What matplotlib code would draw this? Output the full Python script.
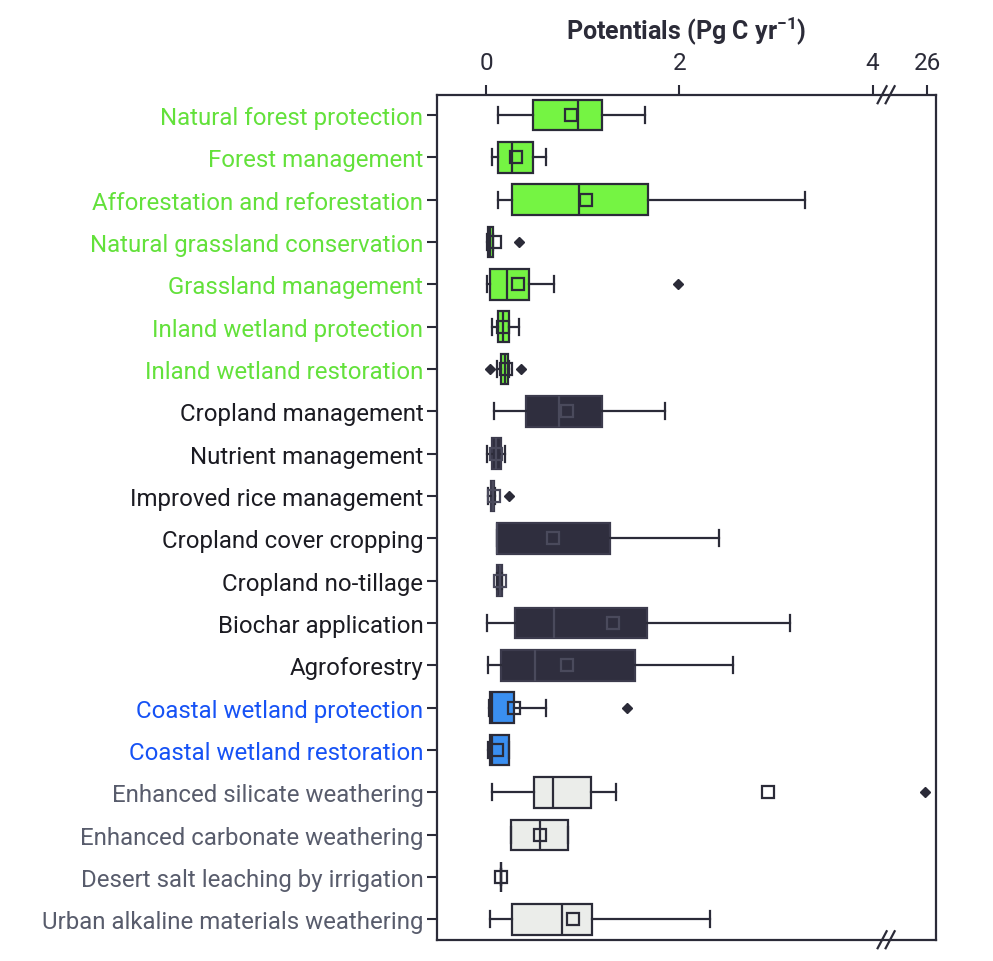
import numpy as np
import matplotlib.pyplot as plt

plt.rcParams['font.family'] = ['Roboto', 'DejaVu Sans']
plt.rcParams['mathtext.fontset'] = 'custom'
plt.rcParams['mathtext.rm'] = 'Roboto'
plt.rcParams['mathtext.bf'] = 'Roboto:bold'

# practices, top to bottom
methods = [
    'Natural forest protection', 'Forest management', 'Afforestation and reforestation',
    'Natural grassland conservation', 'Grassland management', 'Inland wetland protection',
    'Inland wetland restoration', 'Cropland management', 'Nutrient management',
    'Improved rice management', 'Cropland cover cropping', 'Cropland no-tillage',
    'Biochar application', 'Agroforestry', 'Coastal wetland protection',
    'Coastal wetland restoration', 'Enhanced silicate weathering',
    'Enhanced carbonate weathering', 'Desert salt leaching by irrigation',
    'Urban alkaline materials weathering',
]
groups = ['green'] * 7 + ['crop'] * 7 + ['blue'] * 2 + ['rock'] * 4

whislo = [0.12, 0.06, 0.12, 0.01, 0.01, 0.06, 0.11, 0.08, 0.01, 0.02,
          0.11, 0.11, 0.01, 0.02, 0.03, 0.02, 0.06, 0.26, 0.15, 0.04]
q1 = [0.49, 0.12, 0.27, 0.02, 0.04, 0.12, 0.16, 0.41, 0.06, 0.055,
      0.11, 0.11, 0.30, 0.15, 0.04, 0.04, 0.50, 0.26, 0.15, 0.27]
med = [0.95, 0.27, 0.96, 0.04, 0.22, 0.18, 0.20, 0.75, 0.10, 0.07,
       0.11, 0.14, 0.70, 0.51, 0.06, 0.06, 0.69, 0.555, 0.15, 0.79]
q3 = [1.20, 0.49, 1.68, 0.07, 0.44, 0.24, 0.23, 1.20, 0.15, 0.086,
      1.28, 0.17, 1.67, 1.54, 0.29, 0.235, 1.09, 0.845, 0.15, 1.10]
whishi = [1.64, 0.62, 3.30, 0.07, 0.70, 0.34, 0.24, 1.85, 0.20, 0.09,
          2.41, 0.17, 3.15, 2.56, 0.62, 0.235, 1.34, 0.845, 0.15, 2.32]
means = [0.88, 0.31, 1.03, 0.09, 0.33, 0.18, 0.21, 0.84, 0.10, 0.08,
         0.69, 0.14, 1.31, 0.84, 0.29, 0.11, 2.92, 0.555, 0.155, 0.90]
outliers = [[], [], [], [0.34], [1.99], [], [0.04, 0.36], [], [], [0.24],
            [], [], [], [], [1.46], [], [25.2], [], [], []]

tick_vals = [0, 2, 4, 26]

face = {'green': '#75f443', 'crop': '#2f2e3e', 'blue': '#3a8ff1', 'rock': '#ebedea'}
text_col = {'green': '#63e13b', 'crop': '#1b1b22', 'blue': '#1652f5', 'rock': '#585c6c'}
edge = '#2b2b38'
dark_inner = '#4a4a5c'  # median / mean outline inside the dark boxes

# compress everything past 4 so that 26 fits next to it
K = 0.02573


def fwd(x):
    x = np.asarray(x, dtype=float)
    return np.where(x <= 4, x, 4 + (x - 4) * K)


def inv(y):
    y = np.asarray(y, dtype=float)
    return np.where(y <= 4, y, 4 + (y - 4) / K)


stats = []
for i in range(len(methods)):
    stats.append(dict(label=methods[i], whislo=whislo[i], q1=q1[i], med=med[i],
                      q3=q3[i], whishi=whishi[i], mean=means[i], fliers=outliers[i]))

fig = plt.figure(figsize=(9.93, 9.62), dpi=100)
ax = fig.add_axes([0.4404, 0.0221, 0.5022, 0.8784])
ax.set_xscale('function', functions=(fwd, inv))

res = ax.bxp(stats, positions=range(len(methods)), widths=0.72, orientation='horizontal',
             patch_artist=True, showmeans=True, capwidths=0.38,
             boxprops=dict(edgecolor=edge, linewidth=1.6),
             whiskerprops=dict(color=edge, linewidth=1.6),
             capprops=dict(color=edge, linewidth=1.6),
             medianprops=dict(color=edge, linewidth=1.6),
             meanprops=dict(marker='s', markerfacecolor='none', markeredgecolor=edge,
                            markersize=8, markeredgewidth=1.6),
             flierprops=dict(marker='D', markerfacecolor=edge, markeredgecolor=edge,
                             markersize=5))
for i, g in enumerate(groups):
    res['boxes'][i].set_facecolor(face[g])
    if g == 'crop':
        res['boxes'][i].set_edgecolor('#3c3b4d')
        res['medians'][i].set_color(dark_inner)
        res['means'][i].set_markeredgecolor(dark_inner)

ax.set_xlim(-0.504, 29.5)
ax.set_ylim(19.48, -0.48)

ax.xaxis.tick_top()
ax.xaxis.set_label_position('top')
ax.set_xticks(tick_vals)
ax.set_xticklabels([str(v) for v in tick_vals])
ax.minorticks_off()
ax.set_xlabel(r'Potentials (Pg C yr$^{\mathbf{-1}}$)', fontsize=18, fontweight='bold',
              color=edge, labelpad=9)

ax.set_yticks(range(len(methods)))
ax.set_yticklabels(methods)
for lab, g in zip(ax.get_yticklabels(), groups):
    lab.set_color(text_col[g])

ax.tick_params(axis='y', labelsize=17.3, length=7, width=1.5, color=edge, pad=3)
ax.tick_params(axis='x', labelsize=17.5, length=7, width=1.5, color=edge,
               labelcolor=edge, pad=8)
for sp in ax.spines.values():
    sp.set_color(edge)
    sp.set_linewidth(1.6)

# axis break marks on top and bottom spines
bw = 498.7
bh = 845.0
cx = 0.900
for yb in (0.0, 1.0):
    for off in (-4, 4):
        xs = [cx + (off - 4.5) / bw, cx + (off + 4.5) / bw]
        ys = [yb - 8.5 / bh, yb + 8.5 / bh]
        ax.plot(xs, ys, transform=ax.transAxes, color=edge, lw=1.6, clip_on=False)

fig.savefig('out.png', dpi=100)
